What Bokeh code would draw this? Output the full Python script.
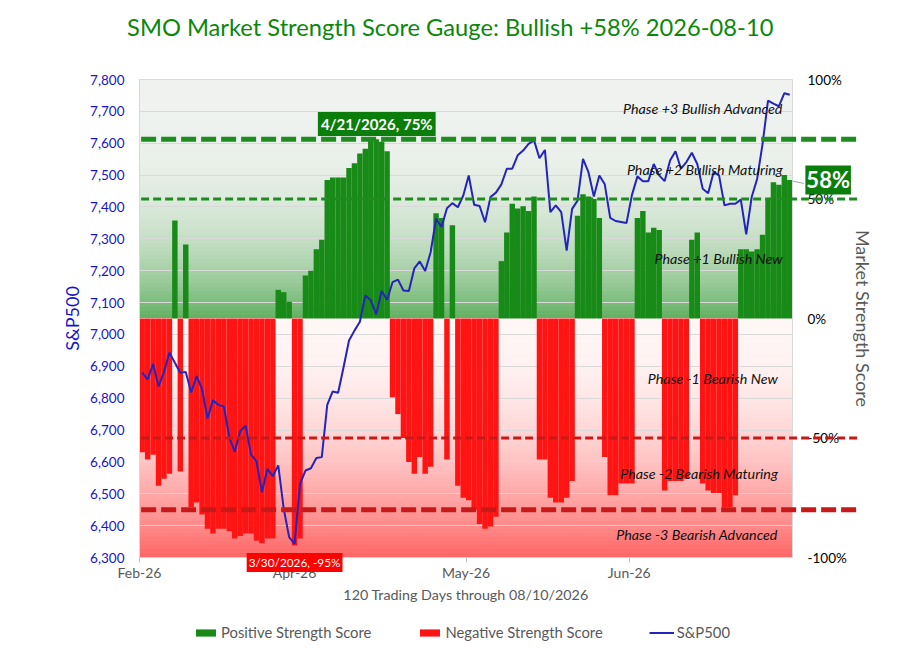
import numpy as np
from bokeh.plotting import figure
from bokeh.models import (Range1d, LinearAxis, FixedTicker, NumeralTickFormatter,
                          PrintfTickFormatter, Label, Legend, LegendItem, Arrow)
from bokeh.embed import file_html
from bokeh.resources import INLINE

# ---------------- data ----------------
title_text = "SMO Market Strength Score Gauge: Bullish +58% 2026-08-10"
x_title = "120 Trading Days through 08/10/2026"

score = [-56, -59, -57, -70, -67, -65, 41, -64, 31, -79,
         -77, -82, -88, -90, -88, -88, -89, -92, -91, -90,
         -90, -93, -94, -92, -92, 12, 11, 7, -95, -92,
         18, 20, 29, 33, 58, 59, 59, 59, 63, 65,
         69, 71, 75, 75, 74, 70, -33, -40, -50, -60,
         -65, -58, -65, -62, 44, 42, -59, 39, -70, -75,
         -76, -80, -86, -88, -87, -83, 24, 36, 48, 46,
         47, 45, 51, -59, -59, -75, -77, -77, -75, -68,
         43, 52, 51, 50, 42, -58, -74, -74, -69, -69,
         -69, 42, 45, 36, 38, 37, -72, -68, -68, -68,
         -67, 33, 36, -69, -72, -73, -73, -79, -79, -74,
         29, 29, 28, 29, 35, 50, 57, 56, 60, 58]

sp500 = [6880, 6859, 6907, 6837, 6882, 6943, 6911, 6880, 6882, 6818,
         6869, 6828, 6736, 6793, 6779, 6774, 6678, 6631, 6696, 6714,
         6623, 6602, 6505, 6578, 6555, 6589, 6453, 6364, 6343, 6531,
         6573, 6580, 6612, 6615, 6779, 6821, 6817, 6897, 6981, 7012,
         7040, 7122, 7107, 7063, 7136, 7109, 7164, 7172, 7138, 7136,
         7207, 7229, 7199, 7258, 7363, 7337, 7396, 7412, 7399, 7436,
         7499, 7407, 7403, 7352, 7431, 7445, 7471, 7520, 7520, 7562,
         7577, 7598, 7609, 7553, 7579, 7384, 7405, 7384, 7263, 7394,
         7420, 7551, 7509, 7433, 7499, 7471, 7366, 7356, 7353, 7350,
         7438, 7496, 7481, 7481, 7535, 7499, 7481, 7546, 7575, 7520,
         7541, 7570, 7535, 7457, 7443, 7509, 7499, 7405, 7410, 7410,
         7423, 7314, 7431, 7488, 7598, 7734, 7724, 7716, 7757, 7752]

month_ticks = [0, 28.5, 60, 90]
month_labels = ["Feb-26", "Apr-26", "May-26", "Jun-26"]
sp_ticks = list(range(6300, 7801, 100))
score_ticks = [-100, -50, 0, 50, 100]

phase_names = ["Phase +3 Bullish Advanced", "Phase +2 Bullish Maturing",
               "Phase +1 Bullish New", "Phase -1 Bearish New",
               "Phase -2 Bearish Maturing", "Phase -3 Bearish Advanced"]
phase_lines = [75, 50, -50, -80]

peak_text = "4/21/2026, 75%"
trough_text = "3/30/2026, -95%"
last_text = "58%"

# ---------------- geometry ----------------
FONT = "Lato"
W, H = 894, 645
FL, FB = 139, 557          # left edge / S&P 6300 level of the plot area (px)
PX_X = 653 / 120           # px per trading day
PX_SP = 478 / 1500         # px per S&P point
PX_PC = 239 / 100          # px per score percent

n = len(score)
xs = np.arange(n) + 0.5

x_lo, x_hi = -FL / PX_X, (W - FL) / PX_X
sp_lo, sp_hi = 6300 - (H - FB) / PX_SP, 7800 + 79 / PX_SP
pc_lo, pc_hi = -100 - (H - FB) / PX_PC, 100 + 79 / PX_PC

p = figure(width=W, height=H, output_backend="svg", toolbar_location=None,
           x_range=Range1d(x_lo, x_hi), y_range=Range1d(sp_lo, sp_hi),
           min_border=0, min_border_left=0, min_border_right=0,
           min_border_top=0, min_border_bottom=0)
p.title.visible = False
p.extra_y_ranges = {"pct": Range1d(pc_lo, pc_hi)}
p.outline_line_color = None
p.background_fill_color = "white"
p.border_fill_color = "white"

# background gradient bands (plot area only)
def lerp(c0, c1, f):
    return "#%02x%02x%02x" % tuple(int(round(a + (b - a) * f)) for a, b in zip(c0, c1))

GREEN0, TOPC = (96, 176, 96), (239, 242, 239)
PINK0, REDB = (255, 246, 246), (255, 102, 102)
nb = 60
b_bot, b_top, b_col = [], [], []
for k in range(nb):
    lo, hi = k / nb, (k + 1) / nb
    t = (lo + hi) / 2
    b_bot.append(lo * 100); b_top.append(hi * 100)
    b_col.append(lerp(GREEN0, TOPC, 1 - (1 - t) ** 3))
    b_bot.append(-hi * 100); b_top.append(-lo * 100)
    b_col.append(lerp(PINK0, REDB, t ** 2))
p.quad(left=0, right=n, bottom=b_bot, top=b_top, fill_color=b_col,
       line_color=b_col, line_width=1, y_range_name="pct", level="image")

# grid lines limited to the plot area
p.xgrid.visible = False
g = p.ygrid[0]
g.ticker = FixedTicker(ticks=sp_ticks)
g.grid_line_color = "#D9D9D9"
if "cross_bounds" in g.properties():
    g.cross_bounds = (0, n)
else:
    g.visible = False
    p.segment(x0=0, x1=n, y0=sp_ticks, y1=sp_ticks, line_color="#D9D9D9",
              line_width=1, level="underlay")

# bars
score_arr = np.array(score, dtype=float)
pos_mask = score_arr > 0
r_pos = p.vbar(x=xs[pos_mask], top=score_arr[pos_mask], bottom=0, width=1,
               fill_color="#178A17", line_color=None, y_range_name="pct")
r_neg = p.vbar(x=xs[~pos_mask], top=score_arr[~pos_mask], bottom=0, width=1,
               fill_color="#FF1414", line_color=None, y_range_name="pct")

# S&P line
r_line = p.line(x=xs, y=sp500, line_color="#2424BC", line_width=2)

# left axis (fixed at the left edge of the bars)
ya = p.yaxis[0]
ya.fixed_location = 0
ya.ticker = FixedTicker(ticks=sp_ticks)
ya.bounds = (6300, 7800)
ya.formatter = NumeralTickFormatter(format="0,0")
ya.axis_label = "S&P500"
ya.axis_label_text_font = FONT
ya.axis_label_text_font_size = "18px"
ya.axis_label_text_font_style = "normal"
ya.axis_label_text_color = "#1515CC"
ya.axis_label_standoff = 4
ya.major_label_text_font = FONT
ya.major_label_text_font_size = "13.5px"
ya.major_label_text_color = "#1515CC"
ya.major_label_standoff = 15
ya.major_tick_out = 0
ya.major_tick_in = 0
ya.minor_tick_out = 0
ya.minor_tick_in = 0
ya.axis_line_color = "#D9D9D9"

# right axis (fixed at the right edge of the bars)
ra = LinearAxis(y_range_name="pct", ticker=FixedTicker(ticks=score_ticks),
                formatter=PrintfTickFormatter(format="%d%%"),
                axis_label="Market Strength Score", fixed_location=n,
                bounds=(-100, 100))
ra.axis_label_text_font = FONT
ra.axis_label_text_font_size = "18px"
ra.axis_label_text_font_style = "normal"
ra.axis_label_text_color = "#595959"
ra.axis_label_standoff = 2
ra.major_label_text_font = FONT
ra.major_label_text_font_size = "13.5px"
ra.major_label_text_color = "#000000"
ra.major_label_standoff = 15
ra.major_tick_out = 0
ra.major_tick_in = 0
ra.minor_tick_out = 0
ra.minor_tick_in = 0
ra.axis_line_color = "#D9D9D9"
p.add_layout(ra, "right")

# bottom axis (fixed at S&P 6300 level)
xa = p.xaxis[0]
xa.fixed_location = 6300
xa.bounds = (0, n)
xa.ticker = FixedTicker(ticks=month_ticks)
xa.major_label_overrides = dict(zip(month_ticks, month_labels))
xa.axis_label = x_title
xa.axis_label_text_font = FONT
xa.axis_label_text_font_size = "14.3px"
xa.axis_label_text_font_style = "normal"
xa.axis_label_text_color = "#595959"
xa.axis_label_standoff = 2
xa.major_label_text_font = FONT
xa.major_label_text_font_size = "14px"
xa.major_label_text_color = "#595959"
xa.major_label_standoff = 1
xa.major_tick_out = 5
xa.major_tick_in = 0
xa.major_tick_line_color = "#BFBFBF"
xa.minor_tick_out = 0
xa.minor_tick_in = 0
xa.axis_line_color = "#D9D9D9"

# phase threshold dashed lines
line_styles = [("#1E8C1E", 5, "15 5"), ("#1E8C1E", 3, "8 4"),
               ("#C81818", 3, "8 4"), ("#C81818", 5, "15 5")]
for lvl, (col, lw, dash) in zip(phase_lines, line_styles):
    p.add_layout(Arrow(start=None, end=None, x_start=0.3, y_start=lvl,
                       x_end=132.2, y_end=lvl, y_range_name="pct",
                       line_color=col, line_width=lw, line_dash=dash))

# phase labels
phase_pos = [(118.2, 88), (118.2, 62.2), (118.2, 25),
             (117.3, -25), (117.3, -65), (117.3, -90.4)]
for name, (px, py) in zip(phase_names, phase_pos):
    p.add_layout(Label(x=px, y=py, y_range_name="pct", text=name,
                       text_font=FONT, text_font_size="14.3px",
                       text_font_style="italic", text_color="#111111",
                       text_align="right", text_baseline="middle"))

# title
p.add_layout(Label(x=57.1, y=121.8, y_range_name="pct", text=title_text,
                   text_font=FONT, text_font_size="23.7px", text_color="#0B870B",
                   text_align="center", text_baseline="middle"))

# callouts
p.add_layout(Label(x=43.6, y=81.4, y_range_name="pct", text=peak_text,
                   text_font=FONT, text_font_size="15px", text_font_style="bold",
                   text_color="white", text_align="center", text_baseline="middle",
                   background_fill_color="#0B7D0B", padding=3))
p.add_layout(Label(x=28.5, y=-102.1, y_range_name="pct", text=trough_text,
                   text_font=FONT, text_font_size="11.8px",
                   text_color="white", text_align="center", text_baseline="middle",
                   background_fill_color="#FF0000", padding=2))
p.add_layout(Arrow(start=None, end=None, x_start=n, y_start=score[-1] - 0.5,
                   x_end=n + 2.1, y_end=score[-1] - 1.5, y_range_name="pct",
                   line_color="#A6A6A6", line_width=1))
p.add_layout(Label(x=126.55, y=score[-1], y_range_name="pct", text=last_text,
                   text_font=FONT, text_font_size="22px", text_font_style="bold",
                   text_color="white", text_align="center", text_baseline="middle",
                   background_fill_color="#0B7D0B", padding=1))

# legend under the chart
legend = Legend(items=[LegendItem(label="Positive Strength Score", renderers=[r_pos]),
                       LegendItem(label="Negative Strength Score", renderers=[r_neg]),
                       LegendItem(label="S&P500", renderers=[r_line])],
                location=(193, 4), orientation="horizontal",
                label_text_font=FONT, label_text_font_size="14.8px",
                label_text_color="#595959", glyph_width=25, glyph_height=9,
                label_standoff=3, spacing=46, padding=0, margin=0,
                border_line_color=None, background_fill_alpha=0)
p.add_layout(legend)

open("out.html", "w").write(file_html(p, INLINE))
